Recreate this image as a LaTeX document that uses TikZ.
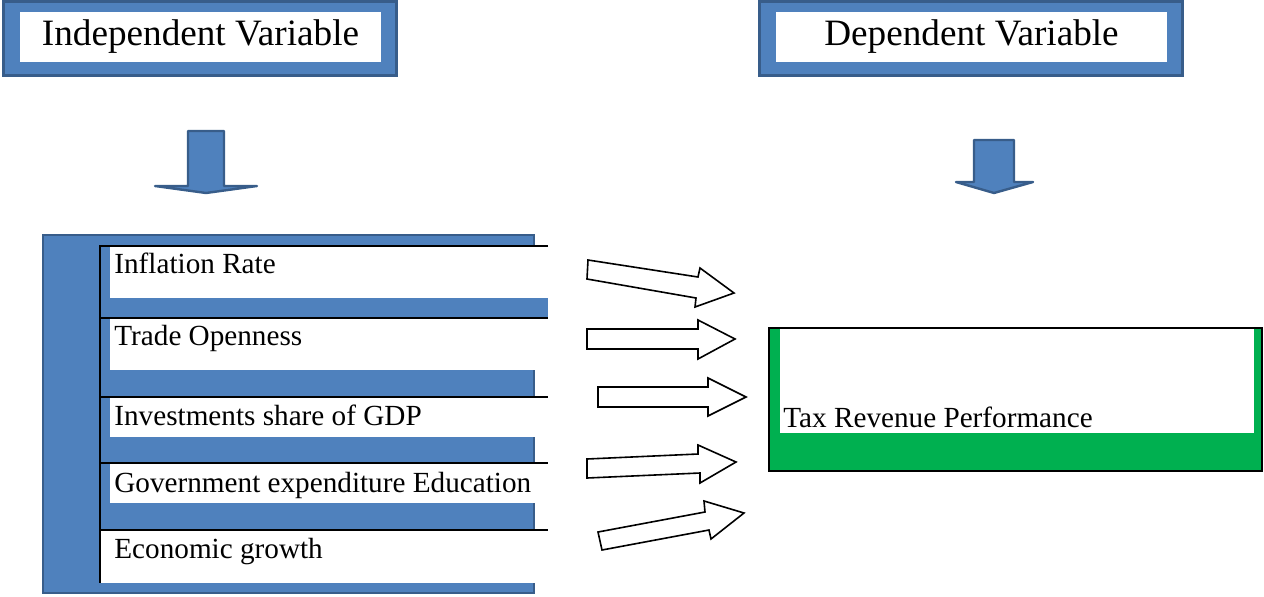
\documentclass[tikz,border=0pt]{standalone}
\usepackage{fontspec}
\setmainfont{Liberation Serif}
\usepackage{xcolor}
\usetikzlibrary{positioning}

\definecolor{officeblue}{HTML}{4F81BD}
\definecolor{darkblue}{HTML}{385D8A}
\definecolor{bargreen}{HTML}{00B050}

\begin{document}
\begin{tikzpicture}[
    x=0.5pt, y=-0.5pt,
    varbox/.style={rectangle, fill=officeblue, draw=darkblue, line width=1.5pt, inner sep=0pt},
    varlabel/.style={rectangle, fill=white, inner sep=0pt, font=\fontsize{18.6}{22}\selectfont},
    item/.style={anchor=base west, inner sep=0pt, font=\fontsize{14.6}{17}\selectfont},
    rowline/.style={black, line width=1pt},
    downarrow/.style={fill=officeblue, draw=darkblue, line width=1.2pt, line join=round},
    blockarrow/.style={fill=white, draw=black, line width=0.8pt, line join=miter}
  ]
  \useasboundingbox (0,0) rectangle (1264,596);

  % Headings
  \node[varbox, minimum width=196.5pt, minimum height=37pt] (indepbox) at (200,38.5) {};
  \node[varlabel, minimum width=180.5pt, minimum height=25pt] (indep) at (200.5,37) {Independent Variable};
  \node[varbox, minimum width=211.5pt, minimum height=37pt] (depbox) at (971,38.5) {};
  \node[varlabel, minimum width=195.5pt, minimum height=25pt] (dep) at (971.5,37) {Dependent Variable};

  % Down arrows
  \draw[downarrow] (188,131) -- (224,131) -- (224,186) -- (257,186) -- (206,193)
    -- (155,186) -- (188,186) -- cycle;
  \draw[downarrow] (974,140) -- (1014,140) -- (1014,182) -- (1033,182) -- (994,193)
    -- (956,182) -- (974,182) -- cycle;

  % Variable list
  \draw[fill=officeblue, draw=darkblue, line width=1pt] (43,235) rectangle (534,593);
  \fill[officeblue] (520,298) rectangle (548,317);
  \fill[white] (110,247) rectangle (548,298);
  \fill[white] (110,319) rectangle (548,370);
  \fill[white] (110,398) rectangle (548,437);
  \fill[white] (110,464) rectangle (548,503);
  \fill[white] (100,531) rectangle (535,583);

  \draw[rowline] (548,246) -- (100,246) -- (100,583);
  \draw[rowline] (100,318) -- (548,318);
  \draw[rowline] (100,397) -- (548,397);
  \draw[rowline] (100,463) -- (548,463);
  \draw[rowline] (100,530) -- (548,530);

  \node[item] (infl) at (114,273) {Inflation Rate};
  \node[item] (trade) at (114,345) {Trade Openness};
  \node[item] (invest) at (114,425) {Investments share of GDP};
  \node[item] (govexp) at (114,492) {Government expenditure Education};
  \node[item] (growth) at (114,558) {Economic growth};

  % Block arrows
  \draw[blockarrow] (588,260) -- (698,277) -- (700,268) -- (734,293) -- (695,307)
    -- (696,298) -- (587,279) -- cycle;
  \draw[blockarrow] (587,329) -- (698,329) -- (698,320) -- (735,339) -- (698,359)
    -- (698,349) -- (587,349) -- cycle;
  \draw[blockarrow] (598,387) -- (708,387) -- (708,378) -- (746,397) -- (708,416)
    -- (708,407) -- (598,407) -- cycle;
  \draw[blockarrow] (587,459) -- (698,454) -- (698,445) -- (736,462) -- (700,483)
    -- (700,473) -- (587,478) -- cycle;
  \draw[blockarrow] (598,532) -- (705,512) -- (704,501) -- (744,513) -- (711,539)
    -- (709,530) -- (602,550) -- cycle;

  % Outcome
  \draw[fill=bargreen, line width=1pt] (769,328) rectangle (1262,471);
  \fill[white] (780,328.5) rectangle (1254,433);
  \draw[line width=1pt] (769,328) -- (1262,328);
  \node[item] (tax) at (783,427) {Tax Revenue Performance};

\end{tikzpicture}
\end{document}
